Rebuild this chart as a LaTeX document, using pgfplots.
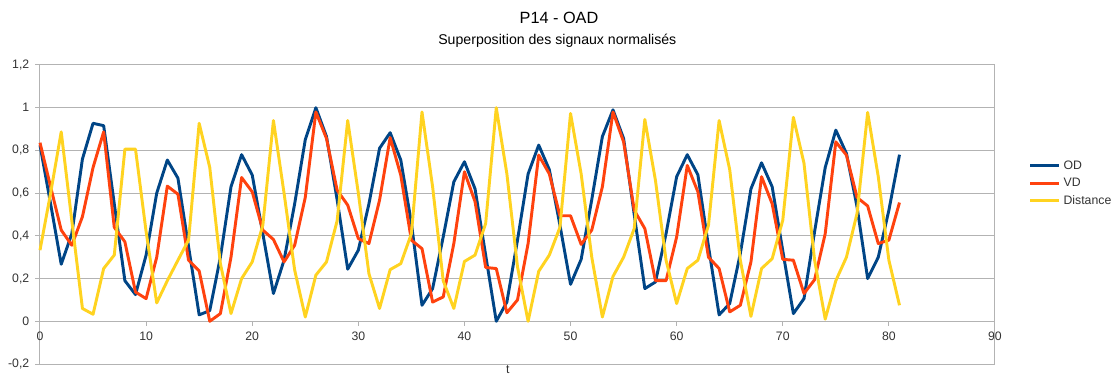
\documentclass[border=0pt]{standalone}
\usepackage{pgfplots}
\pgfplotsset{compat=1.18}
\usepackage{pgfplotstable}
\usepackage{fontspec}
\setmainfont{Liberation Sans}
\definecolor{ODblue}{RGB}{0,69,134}
\definecolor{VDred}{RGB}{255,66,14}
\definecolor{DistYellow}{RGB}{255,211,32}
\definecolor{gridgray}{RGB}{179,179,179}
\definecolor{txt}{RGB}{51,51,51}

\pgfplotstableread{
t od vd dist
0 0.825 0.836 0.333
1 0.55 0.63 0.6
2 0.267 0.427 0.887
3 0.41 0.356 0.47
4 0.76 0.49 0.06
5 0.927 0.72 0.033
6 0.916 0.887 0.247
7 0.55 0.44 0.31
8 0.19 0.372 0.806
9 0.125 0.137 0.806
10 0.31 0.106 0.42
11 0.60 0.30 0.086
12 0.755 0.633 0.19
13 0.67 0.595 0.286
14 0.35 0.286 0.38
15 0.03 0.236 0.927
16 0.05 0.0 0.72
17 0.30 0.036 0.27
18 0.63 0.30 0.036
19 0.78 0.673 0.2
20 0.685 0.606 0.278
21 0.41 0.427 0.45
22 0.13 0.383 0.94
23 0.286 0.278 0.6
24 0.55 0.356 0.24
25 0.85 0.58 0.02
26 1.0 0.98 0.216
27 0.865 0.856 0.278
28 0.57 0.614 0.47
29 0.244 0.544 0.94
30 0.333 0.387 0.6
31 0.55 0.364 0.223
32 0.81 0.567 0.06
33 0.883 0.86 0.242
34 0.755 0.684 0.27
35 0.46 0.38 0.41
36 0.075 0.34 0.98
37 0.153 0.09 0.63
38 0.395 0.114 0.19
39 0.653 0.364 0.06
40 0.747 0.70 0.28
41 0.62 0.56 0.31
42 0.31 0.252 0.458
43 0.0 0.247 1.0
44 0.09 0.04 0.69
45 0.38 0.10 0.255
46 0.69 0.364 0.0
47 0.825 0.778 0.234
48 0.71 0.69 0.31
49 0.45 0.494 0.44
50 0.173 0.494 0.973
51 0.29 0.36 0.69
52 0.57 0.427 0.30
53 0.865 0.63 0.02
54 0.99 0.98 0.21
55 0.856 0.84 0.30
56 0.5 0.52 0.434
57 0.153 0.434 0.945
58 0.184 0.19 0.66
59 0.41 0.19 0.286
60 0.677 0.395 0.083
61 0.78 0.73 0.247
62 0.686 0.606 0.286
63 0.35 0.30 0.45
64 0.03 0.247 0.94
65 0.083 0.044 0.71
66 0.317 0.075 0.286
67 0.62 0.278 0.023
68 0.742 0.677 0.247
69 0.63 0.55 0.293
70 0.33 0.29 0.473
71 0.036 0.286 0.955
72 0.106 0.13 0.74
73 0.42 0.195 0.286
74 0.72 0.41 0.01
75 0.895 0.84 0.19
76 0.786 0.778 0.30
77 0.536 0.58 0.505
78 0.2 0.54 0.978
79 0.30 0.364 0.677
80 0.52 0.38 0.286
81 0.78 0.556 0.075
}\signals

\begin{document}
\begin{tikzpicture}
\path[use as bounding box] (0,0) rectangle (838.5pt,281.25pt);
\node[font=\fontsize{12.2}{14}\selectfont, text=black] at (419.25pt,267.5pt) {P14 - OAD};
\node[font=\fontsize{10.6}{12}\selectfont, text=black] at (418pt,250.5pt) {Superposition des signaux normalisés};
\begin{axis}[
	at={(30pt,8.25pt)}, anchor=south west,
	scale only axis,
	width=716.25pt, height=224.25pt,
	xmin=0, xmax=90, ymin=-0.2, ymax=1.2,
	axis x line=middle, axis y line=left,
	axis line style={-, draw=gridgray, line width=0.75pt},
	hide obscured x ticks=false, hide obscured y ticks=false,
	xtick={0,10,20,30,40,50,60,70,80,90},
	xticklabels={0,10,20,30,40,50,60,70,80,90},
	ytick={-0.2,0,0.2,0.4,0.6,0.8,1,1.2},
	yticklabels={{-0,2},{0},{0,2},{0,4},{0,6},{0,8},{1},{1,2}},
	ymajorgrids,
	grid style={gridgray, line width=0.75pt},
	tick align=outside,
	major tick length=3.5pt,
	tick style={gridgray, line width=0.75pt},
	ticklabel style={font=\fontsize{9.2}{11}\selectfont, text=txt},
	xticklabel style={yshift=-1pt},
	yticklabel style={xshift=-1pt},
	xlabel={t},
	xlabel style={at={(axis description cs:0.49,0)}, anchor=north, inner sep=0pt, yshift=-1pt, font=\fontsize{9.2}{11}\selectfont, text=txt},
	legend style={at={(1.035,0.69)}, anchor=north west, draw=none, fill=none,
		font=\fontsize{9.2}{11}\selectfont, text=txt, row sep=1.2pt, inner sep=0pt},
	legend cell align=left,
	legend image code/.code={\draw[#1] (0pt,0pt) -- (22pt,0pt);},
	every axis plot/.append style={line width=2.2pt, line join=round},
	clip=false,
]
\draw[gridgray, line width=0.75pt] (axis cs:90,-0.2) -- (axis cs:90,1.2);
\addplot[ODblue] table[x=t, y=od] {\signals};
\addlegendentry{OD}
\addplot[VDred] table[x=t, y=vd] {\signals};
\addlegendentry{VD}
\addplot[DistYellow] table[x=t, y=dist] {\signals};
\addlegendentry{Distance}
\end{axis}
\end{tikzpicture}
\end{document}
